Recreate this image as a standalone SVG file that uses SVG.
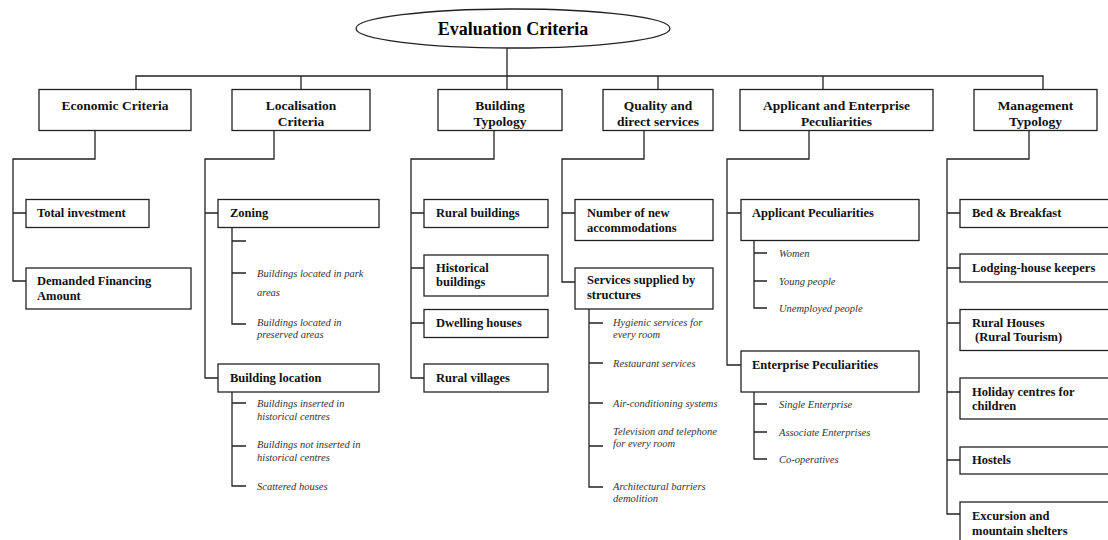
<svg xmlns="http://www.w3.org/2000/svg" width="1108" height="540" viewBox="0 0 1108 540">
<style>
.b{fill:#fff;stroke:#222;stroke-width:1.3}
.c{fill:none;stroke:#222;stroke-width:1.3}
.t0{font-family:"Liberation Serif",serif;font-weight:bold;font-size:18px;fill:#000}
.t1{font-family:"Liberation Serif",serif;font-weight:bold;font-size:13.5px;fill:#111}
.t2{font-family:"Liberation Serif",serif;font-weight:bold;font-size:12.5px;fill:#111}
.t3{font-family:"Liberation Serif",serif;font-style:italic;font-size:10.5px;fill:#333}
</style>
<rect width="1108" height="540" fill="#fff"/>
<g id="connectors">
<path class="c" d="M507 48V76M136 89.5V76H1043V89.5M301 76V89.5M507 76V89.5M658 76V89.5M823 76V89.5"/>
<path class="c" d="M95 130.5V159H13V281H26M13 213H26"/>
<path class="c" d="M274 130.5V159H205V378H218M205 213H218"/>
<path class="c" d="M232 227V324H246M232 241H246M232 273H246"/>
<path class="c" d="M232 392V486H246M232 403H246M232 446H246"/>
<path class="c" d="M494 130.5V159H411V378H424M411 213H424M411 268H424M411 323H424"/>
<path class="c" d="M644 130.5V159H562V282H575M562 213H575"/>
<path class="c" d="M589 309V487H603M589 323H603M589 363H603M589 403H603M589 446H603"/>
<path class="c" d="M809 130.5V159H727V365H741M727 213H741"/>
<path class="c" d="M754 241V308H767M754 253H767M754 281H767"/>
<path class="c" d="M754 392V459H767M754 404H767M754 432H767"/>
<path class="c" d="M1029 130.5V159H947V514H960M947 213H960M947 268H960M947 323H960M947 392H960M947 460H960"/>
</g>
<g id="root">
<ellipse class="b" cx="513" cy="28.5" rx="157" ry="19.5"/>
<text class="t0" x="513" y="35" text-anchor="middle">Evaluation Criteria</text>
</g>
<g id="economic">
<rect class="b" x="39" y="89.5" width="152" height="41"/>
<text class="t1" x="115" y="109.5" text-anchor="middle">Economic Criteria</text>
</g>
<g id="localisation">
<rect class="b" x="232" y="89.5" width="138" height="41"/>
<text class="t1" x="301" y="109.5" text-anchor="middle">Localisation</text>
<text class="t1" x="301" y="125.5" text-anchor="middle">Criteria</text>
</g>
<g id="building">
<rect class="b" x="438" y="89.5" width="124" height="41"/>
<text class="t1" x="500" y="109.5" text-anchor="middle">Building</text>
<text class="t1" x="500" y="125.5" text-anchor="middle">Typology</text>
</g>
<g id="quality">
<rect class="b" x="603" y="89.5" width="110" height="41"/>
<text class="t1" x="658" y="109.5" text-anchor="middle">Quality and</text>
<text class="t1" x="658" y="125.5" text-anchor="middle">direct services</text>
</g>
<g id="applicant">
<rect class="b" x="740" y="89.5" width="193" height="41"/>
<text class="t1" x="836.5" y="109.5" text-anchor="middle">Applicant and Enterprise</text>
<text class="t1" x="836.5" y="125.5" text-anchor="middle">Peculiarities</text>
</g>
<g id="management">
<rect class="b" x="974" y="89.5" width="123" height="41"/>
<text class="t1" x="1035.5" y="109.5" text-anchor="middle">Management</text>
<text class="t1" x="1035.5" y="125.5" text-anchor="middle">Typology</text>
</g>
<g id="total-investment">
<rect class="b" x="26" y="199.5" width="123" height="28"/>
<text class="t2" x="37" y="217">Total investment</text>
</g>
<g id="demanded-financing">
<rect class="b" x="26" y="268" width="165" height="41"/>
<text class="t2" x="37" y="285">Demanded Financing</text>
<text class="t2" x="37" y="300">Amount</text>
</g>
<g id="zoning">
<rect class="b" x="218" y="199.5" width="161" height="28"/>
<text class="t2" x="230" y="217">Zoning</text>
<text class="t3" x="257" y="277">Buildings located in park</text>
<text class="t3" x="257" y="296">areas</text>
<text class="t3" x="257" y="326">Buildings located in</text>
<text class="t3" x="257" y="338">preserved areas</text>
</g>
<g id="building-location">
<rect class="b" x="218" y="364" width="161" height="28"/>
<text class="t2" x="230" y="382">Building location</text>
<text class="t3" x="257" y="407">Buildings inserted in</text>
<text class="t3" x="257" y="420">historical centres</text>
<text class="t3" x="257" y="448">Buildings not inserted in</text>
<text class="t3" x="257" y="461">historical centres</text>
<text class="t3" x="257" y="490">Scattered houses</text>
</g>
<g id="rural-buildings">
<rect class="b" x="424" y="199.5" width="124" height="28"/>
<text class="t2" x="436" y="217">Rural buildings</text>
</g>
<g id="historical-buildings">
<rect class="b" x="424" y="255" width="124" height="41"/>
<text class="t2" x="436" y="272">Historical</text>
<text class="t2" x="436" y="286">buildings</text>
</g>
<g id="dwelling-houses">
<rect class="b" x="424" y="309.5" width="124" height="28"/>
<text class="t2" x="436" y="327">Dwelling houses</text>
</g>
<g id="rural-villages">
<rect class="b" x="424" y="364" width="124" height="28"/>
<text class="t2" x="436" y="382">Rural villages</text>
</g>
<g id="new-accommodations">
<rect class="b" x="575" y="199.5" width="138" height="41"/>
<text class="t2" x="587" y="217">Number of new</text>
<text class="t2" x="587" y="232">accommodations</text>
</g>
<g id="services-supplied">
<rect class="b" x="575" y="268" width="138" height="41"/>
<text class="t2" x="587" y="284">Services supplied by</text>
<text class="t2" x="587" y="299">structures</text>
<text class="t3" x="613" y="326">Hygienic services for</text>
<text class="t3" x="613" y="338">every room</text>
<text class="t3" x="613" y="367">Restaurant services</text>
<text class="t3" x="613" y="407">Air-conditioning systems</text>
<text class="t3" x="613" y="435">Television and telephone</text>
<text class="t3" x="613" y="447">for every room</text>
<text class="t3" x="613" y="490">Architectural barriers</text>
<text class="t3" x="613" y="502">demolition</text>
</g>
<g id="applicant-peculiarities">
<rect class="b" x="741" y="199.5" width="178" height="41"/>
<text class="t2" x="752" y="217">Applicant Peculiarities</text>
<text class="t3" x="779" y="257">Women</text>
<text class="t3" x="779" y="285">Young people</text>
<text class="t3" x="779" y="312">Unemployed people</text>
</g>
<g id="enterprise-peculiarities">
<rect class="b" x="741" y="351" width="178" height="41"/>
<text class="t2" x="752" y="369">Enterprise Peculiarities</text>
<text class="t3" x="779" y="408">Single Enterprise</text>
<text class="t3" x="779" y="436">Associate Enterprises</text>
<text class="t3" x="779" y="463">Co-operatives</text>
</g>
<g id="bed-breakfast">
<rect class="b" x="960" y="199.5" width="160" height="28"/>
<text class="t2" x="972" y="217">Bed &amp; Breakfast</text>
</g>
<g id="lodging-house">
<rect class="b" x="960" y="254" width="160" height="28"/>
<text class="t2" x="972" y="272">Lodging-house keepers</text>
</g>
<g id="rural-houses">
<rect class="b" x="960" y="309.5" width="160" height="41"/>
<text class="t2" x="972" y="327">Rural Houses</text>
<text class="t2" x="975" y="341">(Rural Tourism)</text>
</g>
<g id="holiday-centres">
<rect class="b" x="960" y="378" width="160" height="41"/>
<text class="t2" x="972" y="396">Holiday centres for</text>
<text class="t2" x="972" y="410">children</text>
</g>
<g id="hostels">
<rect class="b" x="960" y="447" width="160" height="27"/>
<text class="t2" x="972" y="464">Hostels</text>
</g>
<g id="excursion">
<rect class="b" x="960" y="502" width="160" height="50"/>
<text class="t2" x="972" y="520">Excursion and</text>
<text class="t2" x="972" y="535">mountain shelters</text>
</g>
</svg>
